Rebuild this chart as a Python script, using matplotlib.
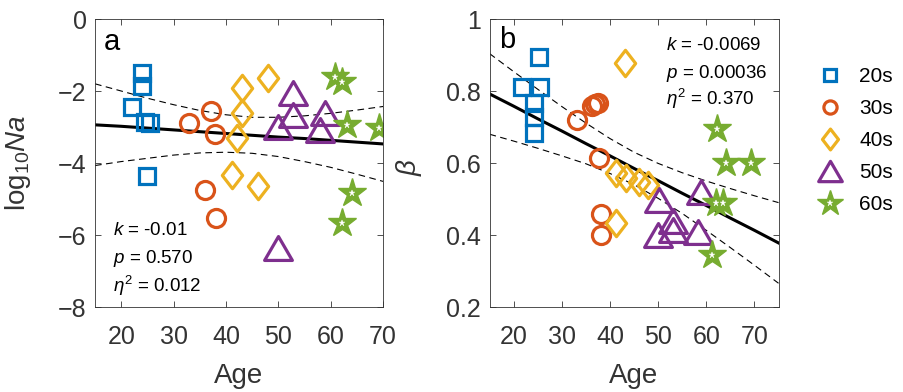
import matplotlib
matplotlib.use("Agg")
import matplotlib.pyplot as plt
from matplotlib.path import Path
from matplotlib.lines import Line2D

plt.rcParams['font.family'] = ['Liberation Sans', 'DejaVu Sans']
plt.rcParams['mathtext.fontset'] = 'custom'
plt.rcParams['mathtext.rm'] = 'Liberation Sans'
plt.rcParams['mathtext.it'] = 'Liberation Sans:italic'

# ---- data ----
groups = ['20s', '30s', '40s', '50s', '60s']
colors = ['#0072BD', '#D95319', '#EDB120', '#7E2F8E', '#77AC30']

# panel a: log10 Na vs age
age_a = {
    '20s': [22.0, 24.0, 24.0, 24.5, 25.5, 25.0],
    '30s': [33.0, 37.2, 37.9, 36.0, 38.1],
    '40s': [48.1, 43.0, 43.0, 42.1, 41.1, 46.1],
    '50s': [52.9, 52.9, 50.0, 59.0, 58.0, 50.0],
    '60s': [60.9, 62.2, 63.1, 69.2, 64.1, 62.2],
}
na_a = {
    '20s': [-2.44, -1.50, -1.86, -2.85, -2.90, -4.36],
    '30s': [-2.88, -2.56, -3.20, -4.75, -5.54],
    '40s': [-1.65, -1.93, -2.60, -3.31, -4.33, -4.63],
    '50s': [-2.06, -2.67, -2.99, -2.62, -3.08, -6.37],
    '60s': [-1.60, -1.74, -2.94, -3.04, -4.84, -5.66],
}

# panel b: beta vs age
age_b = {
    '20s': [25.2, 21.7, 25.4, 24.2, 24.2, 24.2],
    '30s': [33.2, 36.3, 37.0, 37.6, 37.7, 38.1, 38.1],
    '40s': [43.1, 41.2, 43.3, 46.1, 47.8, 41.3],
    '50s': [58.9, 50.2, 53.0, 53.0, 49.9, 58.2],
    '60s': [62.2, 64.1, 69.2, 62.0, 63.4, 61.2],
}
beta_b = {
    '20s': [0.895, 0.812, 0.812, 0.766, 0.729, 0.683],
    '30s': [0.719, 0.758, 0.764, 0.766, 0.614, 0.457, 0.400],
    '40s': [0.877, 0.571, 0.557, 0.548, 0.539, 0.432],
    '50s': [0.520, 0.497, 0.440, 0.414, 0.400, 0.409],
    '60s': [0.694, 0.599, 0.599, 0.488, 0.488, 0.344],
}

# fitted lines and confidence bands (read at 5-year steps)
fit_age_a = [15, 20, 25, 30, 35, 40, 45, 50, 55, 60, 65, 70]
fit_a = [-2.94, -2.98, -3.03, -3.08, -3.13, -3.18, -3.23, -3.28, -3.32, -3.37, -3.42, -3.47]
ci_hi_a = [-1.80, -2.00, -2.20, -2.38, -2.54, -2.66, -2.73, -2.73, -2.69, -2.62, -2.53, -2.43]
ci_lo_a = [-4.07, -3.96, -3.87, -3.78, -3.72, -3.70, -3.73, -3.82, -3.96, -4.12, -4.31, -4.51]

fit_age_b = [15, 20, 25, 30, 35, 40, 45, 50, 55, 60, 65, 70, 75]
fit_b = [0.792, 0.758, 0.723, 0.689, 0.654, 0.620, 0.585, 0.551, 0.516, 0.482, 0.447, 0.413, 0.378]
ci_hi_b = [0.904, 0.854, 0.805, 0.757, 0.711, 0.668, 0.630, 0.599, 0.573, 0.550, 0.529, 0.509, 0.490]
ci_lo_b = [0.680, 0.661, 0.641, 0.620, 0.598, 0.571, 0.540, 0.502, 0.460, 0.413, 0.365, 0.316, 0.266]

stats_a = [r'$\it{k}$ = -0.01', r'$\it{p}$ = 0.570', r'$\it{\eta}^{2}$ = 0.012']
stats_b = [r'$\it{k}$ = -0.0069', r'$\it{p}$ = 0.00036', r'$\it{\eta}^{2}$ = 0.370']

# marker shapes (matlab-like)
diamond = Path([(0, 1), (0.77, 0), (0, -1), (-0.77, 0), (0, 1)],
               [Path.MOVETO, Path.LINETO, Path.LINETO, Path.LINETO, Path.CLOSEPOLY])
triangle = Path([(0, 0.86), (1, -0.86), (-1, -0.86), (0, 0.86)],
                [Path.MOVETO, Path.LINETO, Path.LINETO, Path.CLOSEPOLY])
markers = {'20s': ('s', 11), '30s': ('o', 13), '40s': (diamond, 19),
           '50s': (triangle, 20), '60s': ('*', 21)}
leg_size = {'20s': 8.5, '30s': 9.5, '40s': 15, '50s': 17, '60s': 19}

gray = '#333333'


def style_axes(ax):
    ax.tick_params(direction='in', top=True, right=True, length=4,
                   labelsize=18, colors=gray, width=0.6)
    ax.tick_params(axis='x', pad=13)
    ax.tick_params(axis='y', pad=6)
    for s in ax.spines.values():
        s.set_color(gray)
        s.set_linewidth(0.6)


def add_marks(ax, g, c, x, y, ms):
    m = markers[g][0]
    if g == '60s':
        # matlab's thick-edged pentagram: solid star with a tiny white hole
        ax.plot(x, y, linestyle='none', marker=m, ms=ms, mfc=c, mec=c, mew=1)
        ax.plot(x, y, linestyle='none', marker=m, ms=ms * 0.24, mfc='white',
                mec='white', mew=0.3)
    else:
        ax.plot(x, y, linestyle='none', marker=m, ms=ms, mfc='none', mec=c,
                mew=2.3)


def draw_panel(ax, ages, vals, fx, fy, lo, hi):
    ax.plot(fx, hi, '--', color='black', lw=0.8, dashes=(6, 4))
    ax.plot(fx, lo, '--', color='black', lw=0.8, dashes=(6, 4))
    ax.plot(fx, fy, '-', color='black', lw=2.2)
    for g, c in zip(groups, colors):
        add_marks(ax, g, c, ages[g], vals[g], markers[g][1])


fig = plt.figure(figsize=(9.04, 3.92), dpi=100)
ax_a = fig.add_axes([0.1051, 0.2168, 0.3186, 0.7347])
ax_b = fig.add_axes([0.5415, 0.2168, 0.3197, 0.7347])

draw_panel(ax_a, age_a, na_a, fit_age_a, fit_a, ci_lo_a, ci_hi_a)
ax_a.set_xlim(15, 70)
ax_a.set_ylim(-8, 0)
ax_a.set_xticks([20, 30, 40, 50, 60, 70])
ax_a.set_yticks([-8, -6, -4, -2, 0])
style_axes(ax_a)
ax_a.set_xlabel('Age', fontsize=20, color=gray)
ax_a.xaxis.set_label_coords(0.5, -0.195)
ax_a.set_ylabel(r'log$_{10}$$\it{Na}$', fontsize=20, color=gray)
ax_a.yaxis.set_label_coords(-0.215, 0.5)
ax_a.text(0.031, 0.892, 'a', transform=ax_a.transAxes, fontsize=21)
for i, t in enumerate(stats_a):
    ax_a.text(0.061, [0.25, 0.152, 0.053][i], t, transform=ax_a.transAxes,
              fontsize=13.5, va='baseline')

draw_panel(ax_b, age_b, beta_b, fit_age_b, fit_b, ci_lo_b, ci_hi_b)
ax_b.set_xlim(15, 75)
ax_b.set_ylim(0.2, 1)
ax_b.set_xticks([20, 30, 40, 50, 60, 70])
ax_b.set_yticks([0.2, 0.4, 0.6, 0.8, 1.0])
ax_b.set_yticklabels(['0.2', '0.4', '0.6', '0.8', '1'])
style_axes(ax_b)
ax_b.set_xlabel('Age', fontsize=20, color=gray)
ax_b.xaxis.set_label_coords(0.5, -0.195)
ax_b.set_ylabel(r'$\beta$', fontsize=20, color=gray, rotation=90)
ax_b.yaxis.set_label_coords(-0.225, 0.486)
ax_b.text(0.034, 0.898, 'b', transform=ax_b.transAxes, fontsize=21)
for i, t in enumerate(stats_b):
    ax_b.text(0.61, [0.892, 0.794, 0.701][i], t, transform=ax_b.transAxes,
              fontsize=13.5, va='baseline')

handles = []
for g, c in zip(groups, colors):
    m = markers[g][0]
    if g == '60s':
        handles.append((Line2D([], [], linestyle='none', marker=m, ms=leg_size[g],
                               mfc=c, mec=c, mew=1),
                        Line2D([], [], linestyle='none', marker=m,
                               ms=leg_size[g] * 0.24, mfc='white', mec='white',
                               mew=0.3)))
    else:
        handles.append(Line2D([], [], linestyle='none', marker=m, ms=leg_size[g],
                              mfc='none', mec=c, mew=2.3))
fig.legend(handles, groups, loc='upper left', bbox_to_anchor=(0.895, 0.85),
           frameon=False, fontsize=15, labelspacing=0.62, handletextpad=0.8,
           handlelength=1.2, borderaxespad=0)

fig.savefig('out.png', dpi=100)
